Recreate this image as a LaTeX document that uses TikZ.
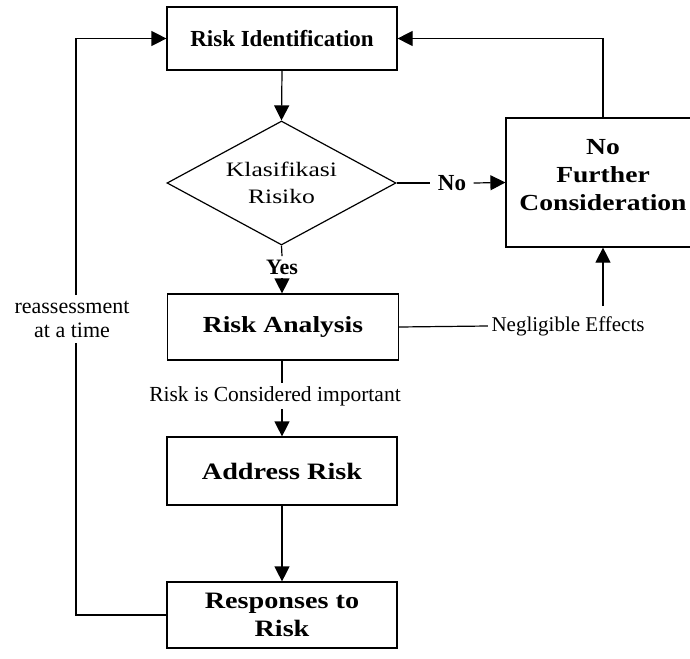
\documentclass[tikz,border=0pt]{standalone}
\usepackage{fontspec}
\setmainfont{Liberation Serif}
\newfontfamily\widefont{Liberation Serif}[FakeStretch=1.2]
\newfontfamily\widerfont{Liberation Serif}[FakeStretch=1.25]
\usetikzlibrary{shapes.geometric,arrows.meta}
\begin{document}
\begin{tikzpicture}[x=1pt,y=-1pt, line width=1.2pt,
  >={Triangle[length=15pt,width=15pt]},
  box/.style={draw, rectangle, inner sep=0pt, align=center},
  lbl/.style={inner sep=3pt, align=center}]
\useasboundingbox (0,0) rectangle (690,658);

\node[box, minimum width=230pt, minimum height=63pt, font=\fontsize{23}{26}\selectfont\bfseries] (ri) at (282,38.5) {Risk Identification};
\node[draw, diamond, aspect=1.85, minimum width=229pt, minimum height=124pt, inner sep=0pt, align=center, font=\widerfont\fontsize{20.5}{27}\selectfont] (dia) at (281.5,183) {Klasifikasi\\Risiko};
\node[box, minimum width=194pt, minimum height=129pt, text depth=16pt, font=\widefont\fontsize{23}{28}\selectfont\bfseries] (nfc) at (603,182.5) {No\\Further\\Consideration};
\node[lbl, inner xsep=7pt, font=\fontsize{23}{26}\selectfont\bfseries] (no) at (452,183) {No};
\node[lbl, font=\fontsize{22}{25}\selectfont\bfseries] (yes) at (282,267) {Yes};
\node[box, minimum width=231pt, minimum height=66pt, font=\widefont\fontsize{23}{30}\selectfont\bfseries] (ra) at (283,327) {Risk Analysis};
\node[lbl, font=\fontsize{21}{24}\selectfont] (neg) at (568,326) {Negligible Effects};
\node[lbl, font=\fontsize{21.5}{24}\selectfont] (rci) at (275,396) {Risk is Considered important};
\node[box, minimum width=230pt, minimum height=68pt, font=\widefont\fontsize{23.5}{29}\selectfont\bfseries] (ar) at (282,471) {Address Risk};
\node[box, minimum width=230pt, minimum height=66pt, font=\widefont\fontsize{23.5}{28}\selectfont\bfseries] (resp) at (282,615) {Responses to\\Risk};
\node[lbl, inner sep=5pt, font=\fontsize{22}{24}\selectfont] (reas) at (72,319) {reassessment\\at a time};
\coordinate (negtop) at (603,306);

\draw[->] (ri.south) -- (dia.north);
\draw (dia.east) -- (no.west);
\draw[->] (no.east) -- (nfc.west);
\draw (dia.south) -- (yes.north);
\draw[->] (yes.south) -- (ra.north -| yes.south);
\draw (ra.east) -- (neg.west);
\draw[->] (negtop) -- (nfc.south);
\draw[->] (nfc.north) |- (ri.east);
\draw (ra.south -| ar.north) -- (ar.north |- rci.north);
\draw[->] (ar.north |- rci.south) -- (ar.north);
\draw[->] (ar.south) -- (resp.north);
\draw (resp.west) -| ([xshift=4pt]reas.south);
\draw[->] ([xshift=4pt]reas.north) |- (ri.west);
\end{tikzpicture}
\end{document}
